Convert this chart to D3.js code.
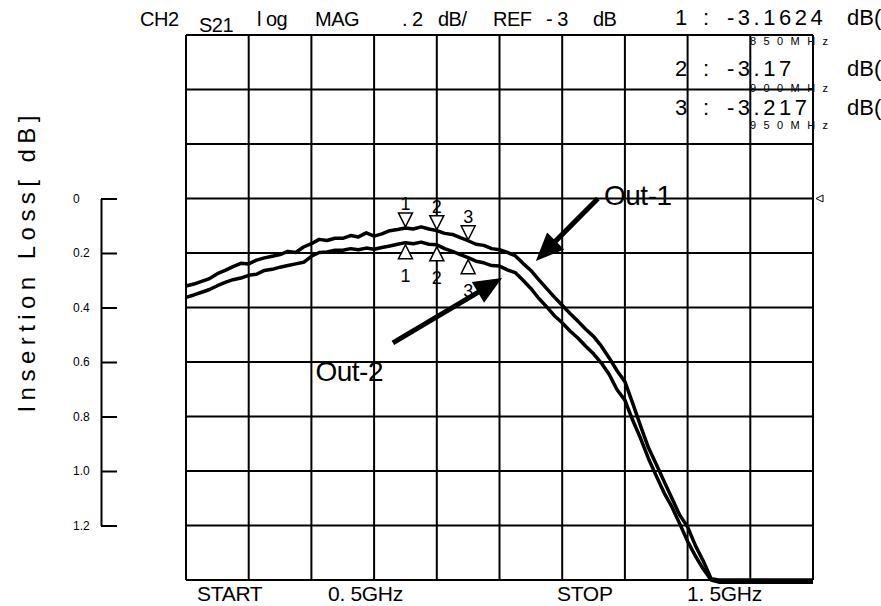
<!DOCTYPE html>
<html>
<head>
<meta charset="utf-8">
<script src="https://cdn.jsdelivr.net/npm/d3@7/dist/d3.min.js"></script>
<style>
  body { margin: 0; background: #fff; }
  text { font-family: "Liberation Sans", Arial, sans-serif; fill: #000; }
</style>
</head>
<body>
<div id="chart"></div>
<script>
// sweep frequency (GHz) shared by both traces
const freqGHz = [
  0.5000, 0.5125, 0.5250, 0.5375, 0.5500, 0.5625, 0.5750, 0.5875, 0.6000, 0.6125,
  0.6250, 0.6375, 0.6500, 0.6625, 0.6750, 0.6875, 0.7000, 0.7125, 0.7250, 0.7375,
  0.7500, 0.7625, 0.7750, 0.7875, 0.8000, 0.8125, 0.8250, 0.8375, 0.8500, 0.8625,
  0.8750, 0.8875, 0.9000, 0.9125, 0.9250, 0.9375, 0.9500, 0.9625, 0.9750, 0.9875,
  1.0000, 1.0125, 1.0250, 1.0375, 1.0500, 1.0625, 1.0750, 1.0875, 1.1000, 1.1125,
  1.1250, 1.1375, 1.1500, 1.1625, 1.1750, 1.1875, 1.2000, 1.2125, 1.2250, 1.2375,
  1.2500, 1.2625, 1.2750, 1.2875, 1.3000, 1.3125, 1.3250, 1.3375, 1.3500, 1.4000,
  1.4500, 1.5000
];

// insertion loss relative to REF (dB)
const out1Loss = [
  0.321, 0.314, 0.304, 0.294, 0.276, 0.264, 0.250, 0.238, 0.240, 0.226,
  0.218, 0.212, 0.206, 0.194, 0.198, 0.178, 0.166, 0.150, 0.154, 0.146,
  0.146, 0.136, 0.141, 0.126, 0.138, 0.130, 0.118, 0.114, 0.108, 0.112,
  0.104, 0.112, 0.118, 0.128, 0.132, 0.144, 0.155, 0.168, 0.172, 0.184,
  0.188, 0.198, 0.210, 0.238, 0.264, 0.298, 0.330, 0.362, 0.392, 0.422,
  0.450, 0.480, 0.506, 0.542, 0.585, 0.632, 0.672, 0.752, 0.835, 0.914,
  0.975, 1.038, 1.100, 1.162, 1.205, 1.274, 1.330, 1.395, 1.400, 1.400,
  1.400, 1.400
];

const out2Loss = [
  0.363, 0.354, 0.344, 0.334, 0.320, 0.308, 0.298, 0.292, 0.282, 0.278,
  0.264, 0.260, 0.252, 0.246, 0.240, 0.234, 0.212, 0.198, 0.196, 0.190,
  0.190, 0.184, 0.188, 0.182, 0.186, 0.180, 0.174, 0.168, 0.162, 0.166,
  0.160, 0.168, 0.170, 0.184, 0.194, 0.206, 0.217, 0.230, 0.236, 0.246,
  0.248, 0.262, 0.272, 0.300, 0.330, 0.366, 0.397, 0.430, 0.456, 0.486,
  0.512, 0.542, 0.570, 0.604, 0.646, 0.702, 0.740, 0.814, 0.880, 0.954,
  1.018, 1.080, 1.132, 1.194, 1.258, 1.312, 1.360, 1.400, 1.408, 1.408,
  1.408, 1.408
];

const lossTicks = [0, 0.2, 0.4, 0.6, 0.8, 1.0, 1.2];
const lossTickLabels = ["0", "0.2", "0.4", "0.6", "0.8", "1.0", "1.2"];

const markerFreq = [0.85, 0.90, 0.95];
const markerNames = ["1", "2", "3"];
const markerReadout = [-3.1624, -3.17, -3.217];
const markerReadoutText = ["-3.1624", "-3.17", "-3.217"];
const markerFreqText = ["850MHz", "900MHz", "950MHz"];

const refLevel = -3;   // dB, drawn at loss 0

const width = 881, height = 606;

const svg = d3.select("#chart").append("svg")
  .attr("width", width)
  .attr("height", height);

svg.append("rect").attr("width", width).attr("height", height).attr("fill", "#fff");

const x = d3.scaleLinear().domain([0.5, 1.5]).range([186, 813]);
const y = d3.scaleLinear().domain([-0.6, 1.4]).range([35, 580]);

// graticule 10 x 10
const grid = svg.append("g").attr("stroke", "#000").attr("stroke-width", 2);
grid.selectAll("line.v")
  .data(x.ticks(10))
  .join("line")
  .attr("class", "v")
  .attr("x1", d => x(d)).attr("x2", d => x(d))
  .attr("y1", y.range()[0]).attr("y2", y.range()[1]);
grid.selectAll("line.h")
  .data(y.ticks(10))
  .join("line")
  .attr("class", "h")
  .attr("x1", x.range()[0]).attr("x2", x.range()[1])
  .attr("y1", d => y(d)).attr("y2", d => y(d));

// insertion loss axis on the left
const yAxisScale = d3.scaleLinear().domain([0, 1.2]).range([y(0), y(1.2)]);
const gy = svg.append("g")
  .attr("transform", "translate(101,0)")
  .call(d3.axisLeft(yAxisScale)
    .tickValues(lossTicks)
    .tickFormat((d, i) => lossTickLabels[i])
    .tickSizeInner(-16)
    .tickSizeOuter(0)
    .tickPadding(0));
gy.attr("font-family", null).attr("font-size", null);
gy.select(".domain").attr("stroke-width", 2);
gy.selectAll(".tick line").attr("stroke-width", 2);
gy.selectAll(".tick text")
  .attr("x", -28)
  .attr("text-anchor", "start")
  .attr("font-size", 12);

svg.append("text")
  .attr("transform", "translate(35,264) rotate(-90)")
  .attr("text-anchor", "middle")
  .attr("font-size", 24)
  .attr("textLength", 297)
  .attr("lengthAdjust", "spacing")
  .text("Insertion  Loss[ dB]");

// traces
const line = d3.line()
  .x((d, i) => x(freqGHz[i]))
  .y(d => y(d));

[out1Loss, out2Loss].forEach(s => {
  svg.append("path")
    .datum(s)
    .attr("d", line)
    .attr("fill", "none")
    .attr("stroke", "#000")
    .attr("stroke-width", 3.5)
    .attr("stroke-linejoin", "round");
});

// reference level pointer
const ry = y(-3 - refLevel);
svg.append("path")
  .attr("d", `M${x(1.5) + 3},${ry} L${x(1.5) + 10},${ry - 3.5} L${x(1.5) + 10},${ry + 3.5} Z`)
  .attr("fill", "#fff")
  .attr("stroke", "#000")
  .attr("stroke-width", 1);

// markers: down triangles on Out-1, up triangles on Out-2
const markers = markerFreq.map((f, i) => {
  const k = freqGHz.indexOf(f);
  return {
    name: markerNames[i],
    px: x(f),
    top: y(out1Loss[k]) - 1,
    bot: y(-3 - markerReadout[i]) + 2
  };
});

const mk = svg.append("g");
mk.selectAll("path.dn")
  .data(markers)
  .join("path")
  .attr("d", d => `M${d.px},${d.top} L${d.px - 7},${d.top - 14} L${d.px + 7},${d.top - 14} Z`)
  .attr("fill", "#fff").attr("stroke", "#000").attr("stroke-width", 1.5);
mk.selectAll("path.up")
  .data(markers)
  .join("path")
  .attr("class", "up")
  .attr("d", d => `M${d.px},${d.bot} L${d.px - 7},${d.bot + 14} L${d.px + 7},${d.bot + 14} Z`)
  .attr("fill", "#fff").attr("stroke", "#000").attr("stroke-width", 1.5);
mk.selectAll("text.dn")
  .data(markers)
  .join("text")
  .attr("class", "dn")
  .attr("x", d => d.px).attr("y", d => d.top - 17)
  .attr("text-anchor", "middle").attr("font-size", 18)
  .text(d => d.name);
mk.selectAll("text.up")
  .data(markers)
  .join("text")
  .attr("class", "up")
  .attr("x", d => d.px).attr("y", d => d.bot + 37)
  .attr("text-anchor", "middle").attr("font-size", 18)
  .text(d => d.name);

// Out-1 / Out-2 callouts (anchored in data units)
const callouts = [
  { name: "Out-1", from: [1.157, 0.0], to: [1.058, 0.229], label: [1.1667, 0.024] },
  { name: "Out-2", from: [0.830, 0.530], to: [1.004, 0.292], label: [0.7065, 0.670] }
];

callouts.forEach(c => {
  const x0 = x(c.from[0]), y0 = y(c.from[1]);
  const x1 = x(c.to[0]), y1 = y(c.to[1]);
  const len = Math.hypot(x1 - x0, y1 - y0);
  const ux = (x1 - x0) / len, uy = (y1 - y0) / len;
  const bx = x1 - ux * 28, by = y1 - uy * 28;
  svg.append("line")
    .attr("x1", x0).attr("y1", y0)
    .attr("x2", bx + ux * 4).attr("y2", by + uy * 4)
    .attr("stroke", "#000").attr("stroke-width", 5);
  svg.append("path")
    .attr("d", `M${x1},${y1} L${bx - uy * 12},${by + ux * 12} L${bx + uy * 12},${by - ux * 12} Z`)
    .attr("fill", "#000");
  svg.append("text")
    .attr("x", x(c.label[0])).attr("y", y(c.label[1]))
    .attr("font-size", 28)
    .attr("letter-spacing", -0.5)
    .text(c.name);
});

// instrument header
const header = [
  { t: "CH2", x: 140, y: 26 },
  { t: "S21", x: 199, y: 32 },
  { t: "l og", x: 257, y: 26 },
  { t: "MAG", x: 315, y: 26 },
  { t: ". 2", x: 402, y: 26 },
  { t: "dB/", x: 438, y: 26 },
  { t: "REF", x: 493, y: 26 },
  { t: "- 3", x: 546, y: 26 },
  { t: "dB", x: 593, y: 26 }
];
svg.append("g").selectAll("text")
  .data(header)
  .join("text")
  .attr("x", d => d.x).attr("y", d => d.y)
  .attr("font-size", 20)
  .attr("letter-spacing", -0.5)
  .text(d => d.t);

// marker readouts
const rowY = [25, 76, 115];
const freqY = [45, 92, 129];
const ro = svg.append("g");
markerNames.forEach((n, i) => {
  ro.append("text").attr("x", 675).attr("y", rowY[i]).attr("font-size", 22).text(n);
  ro.append("text").attr("x", 703).attr("y", rowY[i]).attr("font-size", 22).text(":");
  ro.append("text").attr("x", 727).attr("y", rowY[i]).attr("font-size", 22)
    .attr("letter-spacing", 3.5).text(markerReadoutText[i]);
  ro.append("text").attr("x", 847).attr("y", rowY[i]).attr("font-size", 22).text("dB(");
  ro.append("text").attr("x", 750).attr("y", freqY[i]).attr("font-size", 11)
    .attr("textLength", 78).attr("lengthAdjust", "spacing").text(markerFreqText[i]);
});

// sweep labels
const sweep = [
  { t: "START", x: 197 },
  { t: "0. 5GHz", x: 328 },
  { t: "STOP", x: 557 },
  { t: "1. 5GHz", x: 687 }
];
svg.append("g").selectAll("text")
  .data(sweep)
  .join("text")
  .attr("x", d => d.x).attr("y", 601)
  .attr("font-size", 21)
  .attr("letter-spacing", -0.3)
  .text(d => d.t);
</script>
</body>
</html>
